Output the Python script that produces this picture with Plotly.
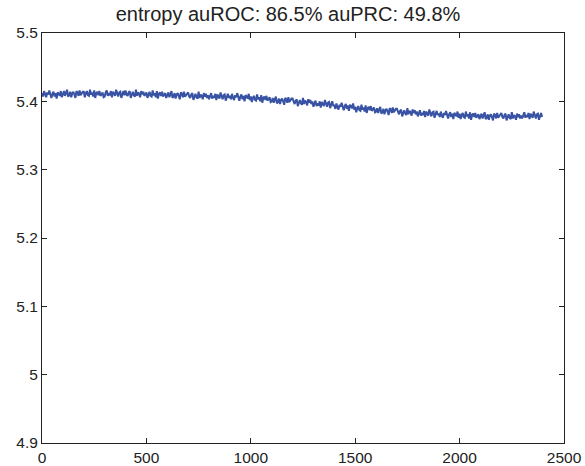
import plotly.graph_objects as go

# Entropy values, one sample every 5 iterations
entropy_values = [
5.412,5.407,5.415,5.409,5.406,5.413,5.410,5.416,5.408,5.405,5.411,5.414,5.407,5.412,5.404,5.413,5.411,5.408,5.415,5.406,
5.410,5.415,5.408,5.413,5.417,5.407,5.409,5.414,5.406,5.412,5.414,5.410,5.405,5.415,5.413,5.408,5.416,5.409,5.411,5.414,
5.414,5.406,5.412,5.415,5.409,5.408,5.417,5.410,5.413,5.407,5.416,5.405,5.412,5.414,5.409,5.415,5.408,5.411,5.413,5.406,
5.407,5.413,5.416,5.408,5.412,5.409,5.415,5.406,5.414,5.411,5.408,5.417,5.410,5.407,5.413,5.414,5.405,5.412,5.415,5.409,
5.416,5.410,5.408,5.413,5.415,5.405,5.412,5.414,5.409,5.407,5.417,5.408,5.413,5.411,5.406,5.415,5.410,5.414,5.408,5.412,
5.413,5.405,5.411,5.414,5.408,5.407,5.416,5.409,5.412,5.406,5.415,5.404,5.411,5.413,5.408,5.414,5.407,5.410,5.412,5.405,
5.408,5.413,5.406,5.411,5.415,5.405,5.407,5.412,5.404,5.410,5.412,5.408,5.403,5.413,5.411,5.406,5.414,5.407,5.409,5.412,
5.413,5.407,5.405,5.410,5.412,5.402,5.409,5.411,5.406,5.404,5.414,5.405,5.410,5.408,5.403,5.412,5.407,5.411,5.405,5.409,
5.403,5.409,5.412,5.404,5.408,5.405,5.411,5.402,5.410,5.407,5.404,5.413,5.406,5.403,5.409,5.410,5.401,5.408,5.411,5.405,
5.408,5.403,5.411,5.405,5.402,5.409,5.406,5.412,5.404,5.401,5.407,5.410,5.403,5.408,5.400,5.409,5.407,5.404,5.411,5.402,
5.407,5.399,5.405,5.408,5.402,5.401,5.410,5.403,5.406,5.400,5.409,5.398,5.405,5.407,5.402,5.408,5.401,5.404,5.406,5.399,
5.400,5.405,5.398,5.403,5.407,5.397,5.399,5.404,5.396,5.402,5.404,5.400,5.395,5.405,5.403,5.398,5.406,5.399,5.401,5.404,
5.404,5.398,5.396,5.401,5.403,5.393,5.400,5.402,5.397,5.395,5.405,5.396,5.401,5.399,5.394,5.403,5.398,5.402,5.396,5.400,
5.392,5.398,5.401,5.393,5.397,5.394,5.400,5.391,5.399,5.396,5.393,5.402,5.395,5.392,5.398,5.399,5.390,5.397,5.400,5.394,
5.394,5.389,5.397,5.391,5.388,5.395,5.392,5.398,5.390,5.387,5.393,5.396,5.389,5.394,5.386,5.395,5.393,5.390,5.397,5.388,
5.392,5.384,5.390,5.393,5.387,5.386,5.395,5.388,5.391,5.385,5.394,5.383,5.390,5.392,5.387,5.393,5.386,5.389,5.391,5.384,
5.385,5.390,5.383,5.388,5.392,5.382,5.384,5.389,5.381,5.387,5.389,5.385,5.380,5.390,5.388,5.383,5.391,5.384,5.386,5.389,
5.389,5.383,5.381,5.386,5.388,5.378,5.385,5.387,5.382,5.380,5.390,5.381,5.386,5.384,5.379,5.388,5.383,5.387,5.381,5.385,
5.378,5.384,5.387,5.379,5.383,5.380,5.386,5.377,5.385,5.382,5.379,5.388,5.381,5.378,5.384,5.385,5.376,5.383,5.386,5.380,
5.382,5.377,5.385,5.379,5.376,5.383,5.380,5.386,5.378,5.375,5.381,5.384,5.377,5.382,5.374,5.383,5.381,5.378,5.385,5.376,
5.382,5.374,5.380,5.383,5.377,5.376,5.385,5.378,5.381,5.375,5.384,5.373,5.380,5.382,5.377,5.383,5.376,5.379,5.381,5.374,
5.377,5.382,5.375,5.380,5.384,5.374,5.376,5.381,5.373,5.379,5.381,5.377,5.372,5.382,5.380,5.375,5.383,5.376,5.378,5.381,
5.383,5.377,5.375,5.380,5.382,5.372,5.379,5.381,5.376,5.374,5.384,5.375,5.380,5.378,5.373,5.382,5.377,5.381,5.375,5.379,
5.375,5.381,5.384,5.376,5.380,5.377,5.383,5.374,5.382,5.379,5.376,5.385,5.378,5.375,5.381,5.382,5.373,5.380,5.383,5.377,
]
sample_step = 5
iterations = [i * sample_step for i in range(len(entropy_values))]

x_ticks = [0, 500, 1000, 1500, 2000, 2500]
x_tick_labels = ["0", "500", "1000", "1500", "2000", "2500"]
y_ticks = [4.9, 5.0, 5.1, 5.2, 5.3, 5.4, 5.5]
y_tick_labels = ["4.9", "5", "5.1", "5.2", "5.3", "5.4", "5.5"]
title_text = "entropy auROC: 86.5% auPRC: 49.8%"

fig = go.Figure()
fig.add_trace(go.Scatter(
    x=iterations, y=entropy_values, mode="lines",
    line=dict(color="#3953a4", width=2), showlegend=False,
))

font = dict(family="Liberation Sans, Arial, sans-serif", size=15.5, color="#222222")
axis_common = dict(
    showgrid=False, zeroline=False, showline=True, linecolor="#222222", linewidth=1,
    mirror="allticks", ticks="inside", ticklen=5, tickcolor="#222222", tickwidth=1,
    tickfont=font, automargin=False,
)
fig.update_xaxes(range=[0, 2500], tickvals=x_ticks, ticktext=x_tick_labels, **axis_common)
fig.update_yaxes(range=[4.9, 5.5], tickvals=y_ticks, ticktext=y_tick_labels, **axis_common)

fig.update_layout(
    width=585, height=466,
    margin=dict(l=42, r=21, t=33, b=23),
    paper_bgcolor="white", plot_bgcolor="white",
    title=dict(text=title_text, xref="container", x=288 / 585, xanchor="center",
               y=1 - 14 / 466, yanchor="middle", automargin=False,
               font=dict(family="Liberation Sans, Arial, sans-serif", size=20, color="#222222")),
)

fig.write_html("out.html")
